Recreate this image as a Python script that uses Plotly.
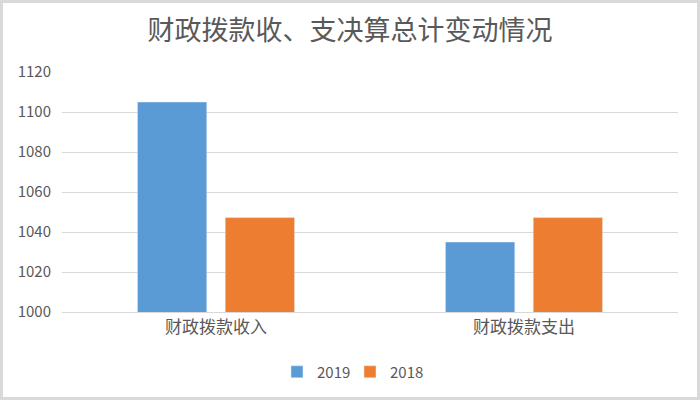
import plotly.graph_objects as go

# data
categories = ['财政拨款收入', '财政拨款支出']
values_2019 = [1105, 1035]
values_2018 = [1047.2, 1047.2]
series_names = ['2019', '2018']
y_ticks = [1000, 1020, 1040, 1060, 1080, 1100, 1120]

W, H = 700, 400
ml, mr, mt, mb = 62, 22, 72, 88
pw, ph = W - ml - mr, H - mt - mb

fig = go.Figure()
fig.add_trace(go.Bar(x=categories, y=values_2019, name=series_names[0],
                     marker_color='#5B9BD5'))
fig.add_trace(go.Bar(x=categories, y=values_2018, name=series_names[1],
                     marker_color='#ED7D31'))

# light grey frame around the whole chart
fig.add_shape(type='rect', xref='paper', yref='paper',
              x0=(1.5 - ml) / pw, x1=(W - 1.5 - ml) / pw,
              y0=(1.5 - mb) / ph, y1=(H - 1.5 - mb) / ph,
              line=dict(color='#d9d9d9', width=3), layer='below')

fig.update_layout(
    width=W, height=H,
    margin=dict(l=ml, r=mr, t=mt, b=mb, autoexpand=False),
    paper_bgcolor='white', plot_bgcolor='white',
    font=dict(family='Noto Sans CJK SC, Liberation Sans', color='#595959', size=15),
    title=dict(text='财政拨款收、支决算总计变动情况', x=0.5, xanchor='center',
               y=1 - 31 / H, yanchor='middle',
               font=dict(size=27, color='#595959')),
    barmode='group', bargap=0.43, bargroupgap=0.21,
    showlegend=True,
    legend=dict(orientation='h', x=0.5, xanchor='center', xref='container',
                y=1 - 372 / H, yanchor='middle', yref='container',
                font=dict(size=15, color='#595959'), itemwidth=30,
                entrywidth=28, traceorder='normal'),
    xaxis=dict(showline=True, linecolor='#d9d9d9', linewidth=1, automargin=False,
               ticks='', tickfont=dict(size=17, color='#595959')),
    yaxis=dict(range=[1000, 1120], tickvals=y_ticks, showgrid=True, automargin=False,
               gridcolor='#d9d9d9', gridwidth=1, zeroline=False,
               showline=False, ticks='', ticklabelstandoff=10,
               tickfont=dict(size=15, color='#595959')),
)

# drop the default 8px page margin so the chart sits at the window corner
fig.write_html('out.html', config={'displayModeBar': False},
               post_script="document.body.style.margin='0';")
